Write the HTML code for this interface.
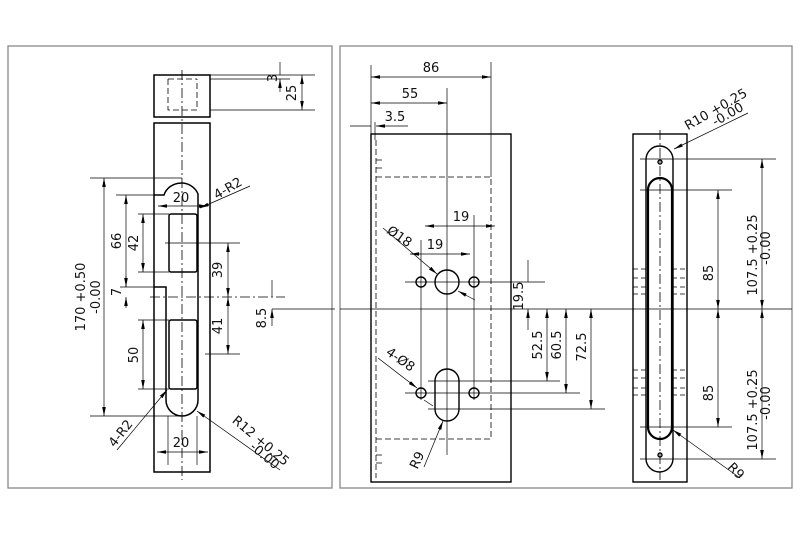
<!DOCTYPE html>
<html><head><style>body{margin:0;background:#fff}svg{display:block}text{font-family:"DejaVu Sans","Liberation Sans",sans-serif;font-size:13px;fill:#111}</style></head>
<body>
<svg width="800" height="533" viewBox="0 0 800 533" xmlns="http://www.w3.org/2000/svg">
<defs><marker id="a" viewBox="0 0 10 10" refX="10" refY="5" markerWidth="9" markerHeight="9" markerUnits="userSpaceOnUse" orient="auto-start-reverse"><path d="M0,3L10,5L0,7z" fill="#000"/></marker></defs>
<g fill="none" stroke="#888" stroke-width="1.3">
<rect x="8" y="46" width="324" height="442"/><rect x="340" y="46" width="452" height="442"/>
</g>
<!-- LEFT VIEW -->
<g fill="none" stroke="#000" stroke-width="1.5">
<rect x="154" y="75" width="56" height="42"/>
<rect x="154" y="123" width="56" height="349"/>
<path d="M154,195H164A18,17 0 0 1 198,194V400A16,16 0 0 1 166,400V287H154"/>
<rect x="169" y="214" width="28" height="58" rx="2"/>
<rect x="169" y="320" width="28" height="69" rx="2"/>
</g>
<g fill="none" stroke="#000" stroke-width="0.8" stroke-dasharray="6,3">
<path d="M168,79V110H197V79M168,79H197"/>
<path d="M182,70V480" stroke-dasharray="10,3,2,3"/>
<path d="M150,297H285" stroke-dasharray="10,3,2,3"/>
</g>
<g fill="none" stroke="#000" stroke-width="0.7">
<path d="M210,75H315M210,79H290M210,110H315"/>
<path d="M280,62V75M280,92V79" marker-end="url(#a)"/>
<path d="M302,75V110" marker-start="url(#a)" marker-end="url(#a)"/>
<path d="M90,178H182M90,416H182M116,195H160M120,287H154M138,214H169M138,272H169M138,320H169M138,389H169"/>
<path d="M104,178V416" marker-start="url(#a)" marker-end="url(#a)"/>
<path d="M126,195V287" marker-start="url(#a)" marker-end="url(#a)"/>
<path d="M143,214V272" marker-start="url(#a)" marker-end="url(#a)"/>
<path d="M143,320V389" marker-start="url(#a)" marker-end="url(#a)"/>
<path d="M126,276V287M126,308V297" marker-end="url(#a)"/>
<path d="M165,243H240M205,354H240"/>
<path d="M228,243V297" marker-start="url(#a)" marker-end="url(#a)"/>
<path d="M228,297V354" marker-start="url(#a)" marker-end="url(#a)"/>
<path d="M272,280V297M272,326V309" marker-end="url(#a)"/>
<path d="M272,309H335"/>
<path d="M158,206H208" marker-start="url(#a)" marker-end="url(#a)"/>
<path d="M168,416V465M197,416V465"/>
<path d="M157,452H208" marker-start="url(#a)" marker-end="url(#a)"/>
<path d="M250,186L200,208" marker-end="url(#a)"/>
<path d="M117,450L167,390" marker-end="url(#a)"/>
<path d="M280,470L197,411" marker-end="url(#a)"/>
</g>
<g>
<text x="277" y="78" transform="rotate(-90 277 78)" text-anchor="middle">3</text>
<text x="296" y="93" transform="rotate(-90 296 93)" text-anchor="middle">25</text>
<text x="181" y="202" text-anchor="middle">20</text>
<text x="181" y="447" text-anchor="middle">20</text>
<text x="85" y="297" transform="rotate(-90 85 297)" text-anchor="middle">170 +0.50</text>
<text x="100" y="297" transform="rotate(-90 100 297)" text-anchor="middle">-0.00</text>
<text x="121" y="241" transform="rotate(-90 121 241)" text-anchor="middle">66</text>
<text x="138" y="243" transform="rotate(-90 138 243)" text-anchor="middle">42</text>
<text x="121" y="292" transform="rotate(-90 121 292)" text-anchor="middle">7</text>
<text x="138" y="355" transform="rotate(-90 138 355)" text-anchor="middle">50</text>
<text x="222" y="270" transform="rotate(-90 222 270)" text-anchor="middle">39</text>
<text x="222" y="326" transform="rotate(-90 222 326)" text-anchor="middle">41</text>
<text x="266" y="318" transform="rotate(-90 266 318)" text-anchor="middle">8.5</text>
<text x="230" y="192" transform="rotate(-30 230 192)" text-anchor="middle">4-R2</text>
<text x="124" y="436" transform="rotate(-52 124 436)" text-anchor="middle">4-R2</text>
<text x="258" y="444" transform="rotate(40 258 444)" text-anchor="middle">R12 +0.25</text>
<text x="262" y="459" transform="rotate(40 262 459)" text-anchor="middle">-0.00</text>
</g>
<!-- MIDDLE VIEW -->
<g fill="none" stroke="#000" stroke-width="1.4">
<rect x="371" y="134" width="140" height="348"/>
<circle cx="421" cy="282" r="5"/><circle cx="474" cy="282" r="5"/><circle cx="447" cy="282" r="12"/>
<circle cx="421" cy="393" r="5"/><circle cx="474" cy="393" r="5"/>
<rect x="435" y="369" width="24" height="52" rx="12"/>
</g>
<g fill="none" stroke="#000" stroke-width="0.8" stroke-dasharray="6,3">
<path d="M376,140V478M376,177H491V439H376"/>
<path d="M376,160H382M376,168H382M376,455H382M376,463H382" stroke-dasharray="none"/>
</g>
<g fill="none" stroke="#000" stroke-width="0.7">
<path d="M340,309H792"/>
<path d="M447,88V455M421,240V400M474,215V400M371,65V134M491,62V177M405,282H545M410,282H485M428,381H560M405,393H580M428,409H605"/>
<path d="M371,77H491" marker-start="url(#a)" marker-end="url(#a)"/>
<path d="M371,103H447" marker-start="url(#a)" marker-end="url(#a)"/>
<path d="M350,126H371M408,126H376" marker-end="url(#a)"/>
<path d="M375,122V140"/>
<path d="M425,226H495" marker-start="url(#a)" marker-end="url(#a)"/>
<path d="M410,254H470" marker-start="url(#a)" marker-end="url(#a)"/>
<path d="M383,228L437,274" marker-end="url(#a)"/>
<path d="M475,300L458,291" marker-end="url(#a)"/>
<path d="M528,260V282M528,330V309" marker-end="url(#a)"/>
<path d="M547,309V381" marker-start="url(#a)" marker-end="url(#a)"/>
<path d="M566,309V393" marker-start="url(#a)" marker-end="url(#a)"/>
<path d="M591,309V409" marker-start="url(#a)" marker-end="url(#a)"/>
<path d="M378,358L417,388" marker-end="url(#a)"/>
<path d="M424,400L433,406"/>
<path d="M424,467L443,421" marker-end="url(#a)"/>
</g>
<g>
<text x="431" y="72" text-anchor="middle">86</text>
<text x="410" y="98" text-anchor="middle">55</text>
<text x="395" y="121" text-anchor="middle">3.5</text>
<text x="461" y="221" text-anchor="middle">19</text>
<text x="435" y="249" text-anchor="middle">19</text>
<text x="397" y="240" transform="rotate(35 397 240)" text-anchor="middle">Ø18</text>
<text x="523" y="296" transform="rotate(-90 523 296)" text-anchor="middle">19.5</text>
<text x="542" y="345" transform="rotate(-90 542 345)" text-anchor="middle">52.5</text>
<text x="561" y="345" transform="rotate(-90 561 345)" text-anchor="middle">60.5</text>
<text x="586" y="347" transform="rotate(-90 586 347)" text-anchor="middle">72.5</text>
<text x="398" y="363" transform="rotate(35 398 363)" text-anchor="middle">4-Ø8</text>
<text x="421" y="462" transform="rotate(-65 421 462)" text-anchor="middle">R9</text>
</g>
<!-- RIGHT VIEW -->
<g fill="none" stroke="#000" stroke-width="1.4">
<rect x="633" y="134" width="54" height="348"/>
<rect x="646" y="146" width="27" height="326" rx="13.5"/>
<rect x="648" y="178" width="24" height="261" rx="12" stroke-width="2.2"/>
<circle cx="660" cy="162" r="2"/><circle cx="660" cy="455" r="2"/>
</g>
<g fill="none" stroke="#000" stroke-width="0.8" stroke-dasharray="5,3">
<path d="M660,130V480" stroke-dasharray="10,3,2,3"/>
<path d="M633,269H648M633,278H648M633,287H648M633,294H648M672,269H687M672,278H687M672,287H687M672,294H687"/>
<path d="M633,370H648M633,378H648M633,388H648M633,395H648M672,370H687M672,378H687M672,388H687M672,395H687"/>
</g>
<g fill="none" stroke="#000" stroke-width="0.7">
<path d="M640,159H776M640,190H732M640,427H732M640,459H776"/>
<path d="M718,190V309" marker-start="url(#a)" marker-end="url(#a)"/>
<path d="M718,309V427" marker-start="url(#a)" marker-end="url(#a)"/>
<path d="M762,159V309" marker-start="url(#a)" marker-end="url(#a)"/>
<path d="M762,309V459" marker-start="url(#a)" marker-end="url(#a)"/>
<path d="M748,113L674,149" marker-end="url(#a)"/>
<path d="M740,478L673,430" marker-end="url(#a)"/>
</g>
<g>
<text x="713" y="273" transform="rotate(-90 713 273)" text-anchor="middle">85</text>
<text x="713" y="393" transform="rotate(-90 713 393)" text-anchor="middle">85</text>
<text x="757" y="255" transform="rotate(-90 757 255)" text-anchor="middle">107.5 +0.25</text>
<text x="770" y="248" transform="rotate(-90 770 248)" text-anchor="middle">-0.00</text>
<text x="757" y="410" transform="rotate(-90 757 410)" text-anchor="middle">107.5 +0.25</text>
<text x="770" y="403" transform="rotate(-90 770 403)" text-anchor="middle">-0.00</text>
<text x="718" y="113" transform="rotate(-30 718 113)" text-anchor="middle">R10 +0.25</text>
<text x="730" y="118" transform="rotate(-30 730 118)" text-anchor="middle">-0.00</text>
<text x="733" y="474" transform="rotate(45 733 474)" text-anchor="middle">R9</text>
</g>
</svg>
</body></html>
